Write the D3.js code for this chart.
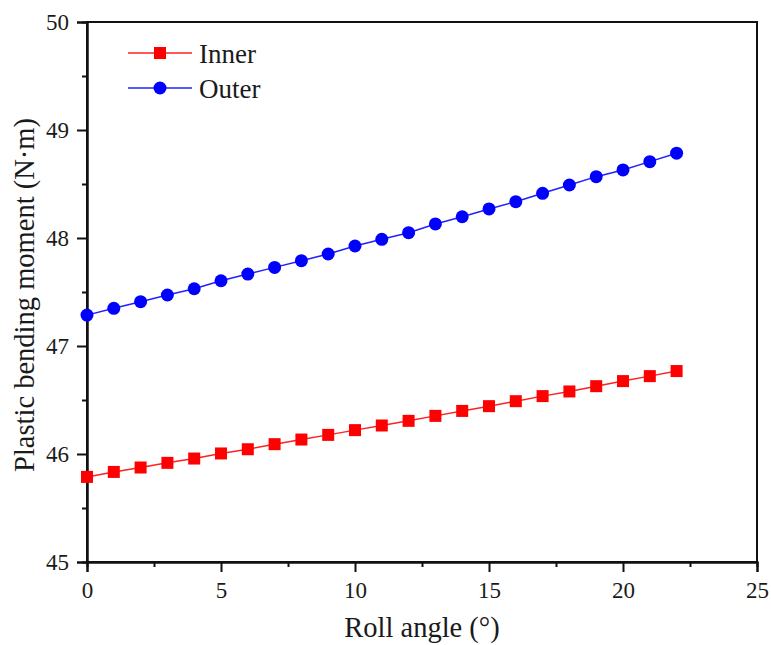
<!DOCTYPE html>
<html>
<head>
<meta charset="utf-8">
<script src="https://cdn.jsdelivr.net/npm/d3@7"></script>
<style>
  html, body { margin: 0; padding: 0; background: #fff; }
  svg, svg text { font-family: "Liberation Serif", "Times New Roman", serif; }
  svg { display: block; }
</style>
</head>
<body>
<svg id="chart" width="771" height="645"></svg>
<script>
// Roll angle (degrees) and plastic bending moment (N·m) per contact side
const rollAngles = [0,1,2,3,4,5,6,7,8,9,10,11,12,13,14,15,16,17,18,19,20,21,22];
const innerMoment = [45.788,45.834,45.875,45.918,45.958,46.005,46.044,46.091,46.134,46.177,46.221,46.264,46.307,46.353,46.399,46.443,46.489,46.536,46.579,46.628,46.675,46.721,46.768];
const outerMoment = [47.286,47.349,47.410,47.472,47.530,47.604,47.666,47.728,47.790,47.852,47.926,47.988,48.049,48.130,48.197,48.269,48.336,48.414,48.491,48.568,48.630,48.707,48.785];
const xTicks = [0,5,10,15,20,25];
const xMinorTicks = [2.5,7.5,12.5,17.5,22.5];
const yTicks = [45,46,47,48,49,50];
const yMinorTicks = [45.5,46.5,47.5,48.5,49.5];
const seriesNames = ["Inner","Outer"];
const xTitle = "Roll angle (°)";
const yTitle = "Plastic bending moment (N·m)";

const svg = d3.select("#chart");
const plotLeft = 87, plotRight = 757, plotTop = 22, plotBottom = 562;

const x = d3.scaleLinear().domain([0,25]).range([plotLeft,plotRight]);
const y = d3.scaleLinear().domain([45,50]).range([plotBottom,plotTop]);

const axisColor = "#111";
const textColor = "#1a1a1a";
const serif = "'Liberation Serif', 'Times New Roman', serif";

// frame
svg.append("rect")
  .attr("x", plotLeft).attr("y", plotTop)
  .attr("width", plotRight-plotLeft).attr("height", plotBottom-plotTop)
  .attr("fill","none").attr("stroke",axisColor).attr("stroke-width",2);

// bottom axis
svg.append("g").attr("transform",`translate(0,${plotBottom})`)
  .call(d3.axisBottom(x).tickValues(xTicks).tickSize(10).tickPadding(10).tickFormat(d3.format("d")));
svg.append("g").attr("transform",`translate(0,${plotBottom})`)
  .call(d3.axisBottom(x).tickValues(xMinorTicks).tickSize(5).tickFormat(""));

// left axis
svg.append("g").attr("transform",`translate(${plotLeft},0)`)
  .call(d3.axisLeft(y).tickValues(yTicks).tickSize(10).tickPadding(8).tickFormat(d3.format("d")));
svg.append("g").attr("transform",`translate(${plotLeft},0)`)
  .call(d3.axisLeft(y).tickValues(yMinorTicks).tickSize(5).tickFormat(""));

svg.selectAll("g").attr("font-family", serif);
svg.selectAll(".domain").attr("stroke",axisColor).attr("stroke-width",2);
svg.selectAll(".tick line").attr("stroke",axisColor).attr("stroke-width",2);
svg.selectAll(".tick text")
  .style("font-family", serif)
  .style("font-size","23px").attr("fill",textColor);

// axis titles
svg.append("text")
  .attr("x", (plotLeft+plotRight)/2).attr("y", 637)
  .attr("text-anchor","middle")
  .style("font-family", serif)
  .attr("font-size",28.5).attr("fill",textColor)
  .text(xTitle);
svg.append("text")
  .attr("transform",`translate(34,295) rotate(-90)`)
  .attr("text-anchor","middle")
  .style("font-family", serif)
  .attr("font-size",28.5).attr("fill",textColor)
  .text(yTitle);

const line = d3.line().x((d,i)=>x(rollAngles[i])).y(d=>y(d));

// Inner series: red squares
svg.append("path").datum(innerMoment)
  .attr("d",line).attr("fill","none").attr("stroke","#ff2020").attr("stroke-width",1.5);
const sq = 12;
svg.append("g").selectAll("rect").data(innerMoment).join("rect")
  .attr("x",(d,i)=>x(rollAngles[i])-sq/2).attr("y",d=>y(d)-sq/2)
  .attr("width",sq).attr("height",sq).attr("fill","#ff0000");

// Outer series: blue circles
svg.append("path").datum(outerMoment)
  .attr("d",line).attr("fill","none").attr("stroke","#2020ff").attr("stroke-width",1.5);
svg.append("g").selectAll("circle").data(outerMoment).join("circle")
  .attr("cx",(d,i)=>x(rollAngles[i])).attr("cy",d=>y(d))
  .attr("r",6.5).attr("fill","#0000ff");

// legend
const legend = svg.append("g");
const legY = [53, 88];
const legColors = ["#ff2020","#2020ff"];
seriesNames.forEach((name,k)=>{
  const g = legend.append("g").attr("transform",`translate(0,${legY[k]})`);
  g.append("line").attr("x1",128).attr("x2",192).attr("y1",0).attr("y2",0)
    .attr("stroke",legColors[k]).attr("stroke-width",1.5);
  if (k===0) {
    g.append("rect").attr("x",160-sq/2).attr("y",-sq/2).attr("width",sq).attr("height",sq).attr("fill","#ff0000");
  } else {
    g.append("circle").attr("cx",160).attr("cy",0).attr("r",6.5).attr("fill","#0000ff");
  }
  g.append("text").attr("x",199).attr("y",10)
    .style("font-family", serif)
    .attr("font-size",27).attr("fill",textColor).text(name);
});
</script>
</body>
</html>
